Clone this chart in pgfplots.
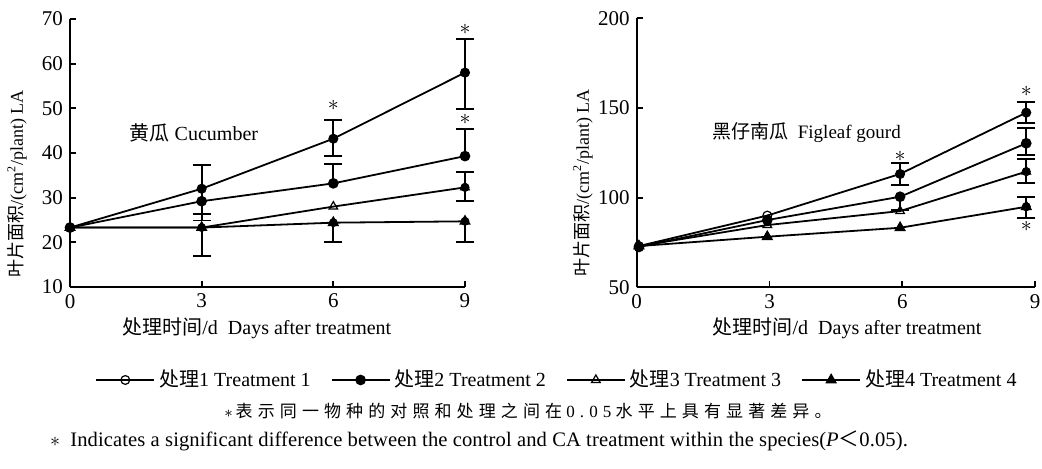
\documentclass[border=0pt]{standalone}
\usepackage{fontspec}
\setmainfont{Liberation Serif}
\newfontfamily\cjk{Noto Sans CJK SC}
\newfontfamily\cjkls[LetterSpace=30]{Noto Sans CJK SC}
\newfontfamily\serifls[LetterSpace=30]{Liberation Serif}
\newfontfamily\seriflt[LetterSpace=0.5]{Liberation Serif}
\usepackage{graphicx}
\usepackage{pgfplots}
\pgfplotsset{compat=1.18}
\tikzset{starnode/.style={font=\fontsize{11}{12}\selectfont, inner sep=0pt}}
\pgfplotsset{
 myaxis/.style={
  scale only axis, clip=false,
  axis x line=bottom, axis y line=left,
  axis line style={-, line width=0.9pt},
  tick style={line width=0.9pt, black},
  tick align=inside, major tick length=3pt,
  xmin=0, xmax=9, xtick={0,3,6,9},
  tick label style={font=\fontsize{10.5}{12}\selectfont},
  /pgf/number format/assume math mode=true,
  every axis y label/.style={rotate=90, anchor=center, font=\fontsize{9}{11}\selectfont},
  every axis x label/.style={anchor=center, font=\fontsize{10}{12}\selectfont},
 },
 t1/.style={black, line width=0.9pt, mark=o, mark size=2.2pt, mark options={solid, line width=0.6pt}},
 t2/.style={black, line width=0.9pt, mark=*, mark size=2.2pt, mark options={solid, fill=black}},
 t3/.style={black, line width=0.9pt, mark=triangle, mark size=2.5pt, mark options={solid, line width=0.6pt}},
 t4/.style={black, line width=0.9pt, mark=triangle*, mark size=2.5pt, mark options={solid, fill=black}},
 ebp/.style={forget plot, only marks, mark=none, black, error bars/.cd, y dir=plus, y explicit,
   error bar style={line width=0.9pt, black}, error mark options={rotate=90, mark size=4.5pt, line width=0.9pt, black}},
 ebm/.style={forget plot, only marks, mark=none, black, error bars/.cd, y dir=minus, y explicit,
   error bar style={line width=0.9pt, black}, error mark options={rotate=90, mark size=4.5pt, line width=0.9pt, black}},
}
\begin{document}
\begin{tikzpicture}[x=1pt,y=1pt]
\useasboundingbox (0,0) rectangle (521,234.5);
% ---------------- Cucumber ----------------
\begin{axis}[myaxis,
  at={(35pt,91pt)}, anchor=south west,
  width=197.5pt, height=134pt,
  ymin=10, ymax=70, ytick={10,20,...,70},
  xlabel={{\cjk 处理时间}/d\ \ Days after treatment},
  ylabel={{\cjk 叶片面积}/(cm\textsuperscript{2}/plant) LA},
  x label style={at={(axis description cs:0.473,-0.153)}},
  y label style={at={(axis description cs:-0.134,0.384)}},
  legend style={at={(axis description cs:1.2354,-0.347)}, anchor=center, draw=none, fill=none,
    legend columns=4, font=\fontsize{10}{12}\selectfont,
    /tikz/every even column/.append style={column sep=8pt}},
  legend cell align=left,
  legend image code/.code={\draw[mark repeat=2, mark phase=2, #1]
     plot coordinates {(-14.5pt,0pt) (0pt,0pt) (14.5pt,0pt)};},
]
\addplot[t1] coordinates {(0,23.3) (3,32) (6,43.2) (9,58)};
\addlegendentry{{\cjk 处理}1 Treatment 1}
\addplot[t2] coordinates {(0,23.3) (3,29.2) (6,33.2) (9,39.3)};
\addlegendentry{{\cjk 处理}2 Treatment 2}
\addplot[t3] coordinates {(0,23.3) (3,23.3) (6,28.0) (9,32.3)};
\addlegendentry{{\cjk 处理}3 Treatment 3}
\addplot[t4] coordinates {(0,23.3) (3,23.3) (6,24.4) (9,24.7)};
\addlegendentry{{\cjk 处理}4 Treatment 4}
% error bars (upper halves)
\addplot[ebp] coordinates {(3,32) +- (0,5.3) (6,43.2) +- (0,4.1) (9,58) +- (0,7.6)};
\addplot[ebp] coordinates {(6,33.2) +- (0,4.4) (9,39.3) +- (0,6.0)};
\addplot[ebp] coordinates {(9,32.3) +- (0,3.4)};
% error bars (lower halves)
\addplot[ebm] coordinates {(3,32) +- (0,5.6) (6,43.2) +- (0,3.9) (9,58) +- (0,8.2)};
\addplot[ebm] coordinates {(3,29.2) +- (0,4.3)};
\addplot[ebm] coordinates {(9,32.3) +- (0,3.1)};
\addplot[ebm] coordinates {(3,23.3) +- (0,6.4) (6,24.4) +- (0,4.4) (9,24.7) +- (0,4.7)};
\node[font=\fontsize{10}{12}\selectfont, anchor=west] at (axis cs:1.2,44.5) {{\cjk 黄瓜} Cucumber};
\node[starnode] at (axis cs:6,50.6) {$\ast$};
\node[starnode] at (axis cs:9,67.6) {$\ast$};
\node[starnode] at (axis cs:9,47.6) {$\ast$};
\end{axis}
% ---------------- Figleaf gourd ----------------
\begin{axis}[myaxis,
  at={(318.35pt,90.85pt)}, anchor=south west,
  width=199.2pt, height=134.5pt,
  ymin=50, ymax=200, ytick={50,100,150,200},
  xlabel={{\cjk 处理时间}/d\ \ Days after treatment},
  ylabel={{\cjk 叶片面积}/(cm\textsuperscript{2}/plant) LA},
  x label style={at={(axis description cs:0.528,-0.152)}},
  y label style={at={(axis description cs:-0.135,0.388)}},
]
\addplot[t1] coordinates {(0.05,73) (2.95,90) (5.95,113.2) (8.8,147.4)};
\addplot[t2] coordinates {(0.05,72.5) (2.95,87.5) (5.95,100.5) (8.8,130.3)};
\addplot[t3] coordinates {(0.05,73) (2.95,84.7) (5.95,92.5) (8.8,114.5)};
\addplot[t4] coordinates {(0.05,73) (2.95,78.2) (5.95,83.2) (8.8,94.9)};
\addplot[ebp] coordinates {(5.95,113.2) +- (0,6.3) (8.8,147.4) +- (0,5.9)};
\addplot[ebp] coordinates {(8.8,130.3) +- (0,8.5)};
\addplot[ebp] coordinates {(8.8,114.5) +- (0,6.9)};
\addplot[ebp] coordinates {(8.8,94.9) +- (0,5.3)};
\addplot[ebm] coordinates {(5.95,113.2) +- (0,6.3) (8.8,147.4) +- (0,5.6)};
\addplot[ebm] coordinates {(5.95,100.5) +- (0,7.5) (8.8,130.3) +- (0,6.5)};
\addplot[ebm] coordinates {(8.8,114.5) +- (0,6.5)};
\addplot[ebm] coordinates {(8.8,94.9) +- (0,6.3)};
\node[font=\fontsize{9.5}{12}\selectfont, anchor=west] at (axis cs:1.55,136) {{\cjk 黑仔南瓜}\ \ Figleaf gourd};
\node[starnode] at (axis cs:5.95,123) {$\ast$};
\node[starnode] at (axis cs:8.8,159) {$\ast$};
\node[starnode] at (axis cs:8.8,84) {$\ast$};
\end{axis}
% ---------------- notes ----------------
\node[font=\fontsize{8.5}{11}\selectfont] at (264,29) {$\ast$\,{\cjkls 表示同一物种的对照和处理之间在} {\serifls 0.05} {\cjkls 水平上具有显著差异。}};
\node[font=\fontsize{10.3}{12}\selectfont] at (239.5,14) {$\ast$\ \ {\seriflt Indicates a significant difference between the control and CA treatment within the species(\textit{P}{\cjk ＜}0.05).}};
\end{tikzpicture}
\end{document}
